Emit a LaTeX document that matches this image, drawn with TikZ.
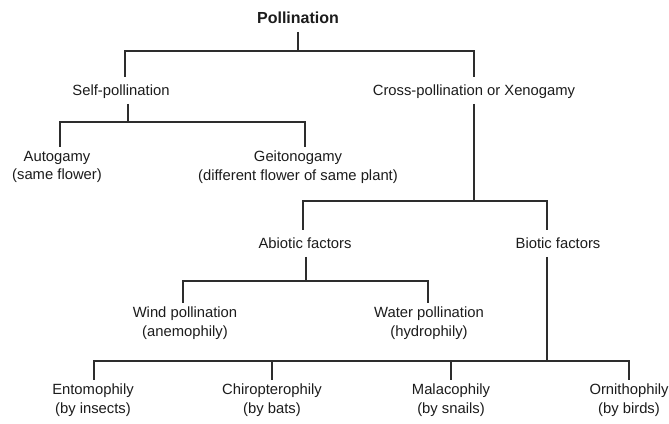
\documentclass[tikz,border=0pt]{standalone}
\usepackage{fontspec}
\setmainfont{Liberation Sans}
\definecolor{ink}{RGB}{28,28,28}
\definecolor{wirec}{RGB}{45,45,45}
\tikzset{
  lbl/.style={font=\fontsize{14.8}{18.5}\selectfont, text=ink, align=center,
    inner xsep=0pt, inner ysep=4pt, anchor=north,
    execute at begin node={\rule{0pt}{14.5pt}},
    execute at end node={\rule[-4pt]{0pt}{4pt}}},
  titlelbl/.style={font=\fontsize{16}{19}\selectfont\bfseries, text=ink,
    inner xsep=0pt, inner ysep=4pt, anchor=base,
    execute at end node={\rule[-4pt]{0pt}{4pt}}},
  wire/.style={draw=wirec, line width=1.1pt}
}
\begin{document}
\begin{tikzpicture}[x=1pt,y=-1pt]
\useasboundingbox[fill=white] (0,0) rectangle (669,423);

\node[titlelbl] (poll) at (298,23.7) {Pollination};

\node[lbl] (self)  at (121,77) {Self-pollination};
\node[lbl] (cross) at (474,77) {Cross-pollination or Xenogamy};

\node[lbl] (auto)  at (57,147)  {Autogamy\\(same flower)};
\node[lbl] (geito) at (298,147) {Geitonogamy\\(different flower of same plant)};

\node[lbl] (abio) at (305,230) {Abiotic factors};
\node[lbl] (bio)  at (558,230) {Biotic factors};

\node[lbl] (wind)  at (185,303) {Wind pollination\\(anemophily)};
\node[lbl] (water) at (429,303) {Water pollination\\(hydrophily)};

\node[lbl] (ento)  at (93,380)  {Entomophily\\(by insects)};
\node[lbl] (chiro) at (272,380) {Chiropterophily\\(by bats)};
\node[lbl] (mala)  at (451,380) {Malacophily\\(by snails)};
\node[lbl] (orni)  at (629,380) {Ornithophily\\(by birds)};

% Pollination
\coordinate (jP) at (298,51);
\draw[wire] (poll.south) -- (jP);
\draw[wire] (jP) -| ([xshift=4pt]self.north);
\draw[wire] (jP) -| (cross.north);

% Self-pollination
\coordinate (jS) at (128,122);
\draw[wire] ([xshift=7pt]self.south) -- (jS);
\draw[wire] (jS) -| ([xshift=3pt]auto.north);
\draw[wire] (jS) -| ([xshift=7pt]geito.north);

% Cross-pollination
\coordinate (jC) at (474,201);
\draw[wire] (cross.south) -- (jC);
\draw[wire] (jC) -| ([xshift=-2pt]abio.north);
\draw[wire] (jC) -| ([xshift=-11pt]bio.north);

% Abiotic
\coordinate (jA) at (306,281);
\draw[wire] ([xshift=1pt]abio.south) -- (jA);
\draw[wire] (jA) -| ([xshift=-2pt]wind.north);
\draw[wire] (jA) -| ([xshift=-1pt]water.north);

% Biotic
\coordinate (jB) at (547,361);
\draw[wire] ([xshift=-11pt]bio.south) -- (jB);
\draw[wire] (jB) -| ([xshift=1pt]ento.north);
\draw[wire] (jB) -| (chiro.north);
\draw[wire] (jB) -| (mala.north);
\draw[wire] (jB) -| (orni.north);
\end{tikzpicture}
\end{document}
